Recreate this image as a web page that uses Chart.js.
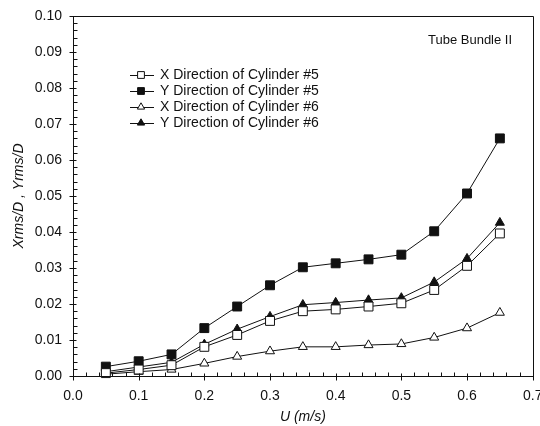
<!DOCTYPE html>
<html>
<head>
<meta charset="utf-8">
<script src="https://cdn.jsdelivr.net/npm/chart.js@4/dist/chart.umd.min.js"></script>
<style>
  html, body { margin: 0; padding: 0; background: #fff; }
  #wrap { width: 540px; height: 426px; position: relative; }
</style>
</head>
<body>
<div id="wrap"><canvas id="c" width="540" height="426"></canvas></div>
<script>
// ---- data ----
const flowSpeeds = [0.05, 0.10, 0.15, 0.20, 0.25, 0.30, 0.35, 0.40, 0.45, 0.50, 0.55, 0.60, 0.65];
const xDirCyl5 = [0.0008, 0.0018, 0.0030, 0.0081, 0.0114, 0.0153, 0.0180, 0.0185, 0.0193, 0.0202, 0.0239, 0.0306, 0.0396];
const yDirCyl5 = [0.0026, 0.0041, 0.0060, 0.0133, 0.0193, 0.0252, 0.0302, 0.0313, 0.0324, 0.0337, 0.0402, 0.0507, 0.0660];
const xDirCyl6 = [0.0005, 0.0012, 0.0018, 0.0035, 0.0054, 0.0069, 0.0081, 0.0081, 0.0086, 0.0089, 0.0107, 0.0133, 0.0176];
const yDirCyl6 = [0.0012, 0.0025, 0.0038, 0.0088, 0.0130, 0.0165, 0.0198, 0.0204, 0.0211, 0.0217, 0.0261, 0.0326, 0.0426];
const seriesLabels = ['X Direction of Cylinder #5', 'Y Direction of Cylinder #5', 'X Direction of Cylinder #6', 'Y Direction of Cylinder #6'];
const xTickLabels = ['0.0', '0.1', '0.2', '0.3', '0.4', '0.5', '0.6', '0.7'];
const yTickLabels = ['0.00', '0.01', '0.02', '0.03', '0.04', '0.05', '0.06', '0.07', '0.08', '0.09', '0.10'];
const annotationText = 'Tube Bundle II';
const xAxisTitle = 'U (m/s)';
const yAxisTitle = 'Xrms/D , Yrms/D';

const FONT = '"Liberation Sans", Arial, sans-serif';
const INK = '#111111';

const seriesValues = [xDirCyl5, yDirCyl5, xDirCyl6, yDirCyl6];
const seriesStyles = [
  { pointStyle: 'rect', fill: '#ffffff', radius: 6.3 },
  { pointStyle: 'rect', fill: INK, radius: 6.3 },
  { pointStyle: 'triangle', fill: '#ffffff', radius: 5.2 },
  { pointStyle: 'triangle', fill: INK, radius: 5.2 }
];

const datasets = seriesValues.map((vals, i) => ({
  label: seriesLabels[i],
  data: flowSpeeds.map((u, j) => ({ x: u, y: vals[j] })),
  borderColor: INK,
  borderWidth: 1,
  pointStyle: seriesStyles[i].pointStyle,
  pointRadius: seriesStyles[i].radius,
  pointHoverRadius: seriesStyles[i].radius,
  pointBackgroundColor: seriesStyles[i].fill,
  pointBorderColor: INK,
  pointBorderWidth: 1,
  tension: 0,
  fill: false,
  clip: false
}));

function drawMarker(ctx, style, fill, x, y, r) {
  ctx.save();
  ctx.beginPath();
  if (style === 'rect') {
    const s = Math.SQRT1_2 * r;
    ctx.rect(x - s, y - s, 2 * s, 2 * s);
  } else {
    const a = Math.PI * 2 / 3;
    let rad = 0;
    ctx.moveTo(x + Math.sin(rad) * r, y - Math.cos(rad) * r);
    rad += a; ctx.lineTo(x + Math.sin(rad) * r, y - Math.cos(rad) * r);
    rad += a; ctx.lineTo(x + Math.sin(rad) * r, y - Math.cos(rad) * r);
    ctx.closePath();
  }
  ctx.fillStyle = fill;
  ctx.fill();
  ctx.strokeStyle = INK;
  ctx.lineWidth = 1;
  ctx.stroke();
  ctx.restore();
}

const framePlugin = {
  id: 'frame',
  afterDraw(chart) {
    const ctx = chart.ctx;
    const a = chart.chartArea;
    const xs = chart.scales.x, ys = chart.scales.y;
    ctx.save();
    ctx.strokeStyle = INK;
    ctx.lineWidth = 1;
    // frame
    ctx.beginPath();
    ctx.rect(Math.round(a.left) + 0.5, Math.round(a.top) + 0.5, Math.round(a.right - a.left), Math.round(a.bottom - a.top));
    ctx.stroke();
    // x ticks
    ctx.beginPath();
    for (let k = 0; k <= 35; k++) {
      const v = k * 0.02;
      const px = Math.round(xs.getPixelForValue(v)) + 0.5;
      const by = Math.round(a.bottom) + 0.5;
      if (k % 5 === 0) { ctx.moveTo(px, by - 3); ctx.lineTo(px, by + 4); }
      else { ctx.moveTo(px, by - 4); ctx.lineTo(px, by); }
    }
    // y ticks
    for (let k = 0; k <= 50; k++) {
      const v = k * 0.002;
      const py = Math.round(ys.getPixelForValue(v)) + 0.5;
      const lx = Math.round(a.left) + 0.5;
      if (k % 5 === 0) { ctx.moveTo(lx - 4, py); ctx.lineTo(lx + 3, py); }
      else { ctx.moveTo(lx, py); ctx.lineTo(lx + 4, py); }
    }
    ctx.stroke();

    // annotation
    ctx.fillStyle = INK;
    ctx.font = '13px ' + FONT;
    ctx.textAlign = 'left';
    ctx.textBaseline = 'middle';
    ctx.fillText(annotationText, 428, 40);

    // legend
    ctx.font = '14px ' + FONT;
    const rows = [75, 91, 107, 123];
    chart.data.datasets.forEach((ds, i) => {
      const y = rows[i];
      ctx.beginPath();
      ctx.moveTo(130, y + 0.5);
      ctx.lineTo(154, y + 0.5);
      ctx.strokeStyle = INK;
      ctx.stroke();
      drawMarker(ctx, seriesStyles[i].pointStyle, seriesStyles[i].fill, 141, y, seriesStyles[i].pointStyle === 'rect' ? 4.8 : 4.2);
      ctx.fillStyle = INK;
      ctx.fillText(ds.label, 160, y + 0.5);
    });
    ctx.restore();
  }
};

new Chart(document.getElementById('c'), {
  type: 'line',
  data: { datasets },
  options: {
    responsive: false,
    animation: false,
    events: [],
    layout: { padding: { left: 0, right: 7, top: 16, bottom: 0 } },
    plugins: { legend: { display: false }, tooltip: { enabled: false } },
    scales: {
      x: {
        type: 'linear',
        min: 0, max: 0.7,
        grid: { display: false, drawTicks: false },
        border: { display: false },
        afterFit(s) { s.height = 50; s.paddingLeft = 0; s.paddingRight = 0; },
        afterBuildTicks(s) { s.ticks = xTickLabels.map(t => ({ value: parseFloat(t) })); },
        ticks: {
          padding: 12,
          color: INK,
          font: { family: FONT, size: 14 },
          maxRotation: 0,
          autoSkip: false,
          callback: (v, i) => xTickLabels[i]
        },
        title: {
          display: true, text: xAxisTitle, color: INK,
          font: { family: FONT, size: 14, style: 'italic' },
          padding: { top: 3, bottom: 0 }
        }
      },
      y: {
        type: 'linear',
        min: 0, max: 0.1,
        grid: { display: false, drawTicks: false },
        border: { display: false },
        afterFit(s) { s.width = 73; s.paddingTop = 0; s.paddingBottom = 0; },
        afterBuildTicks(s) { s.ticks = yTickLabels.map(t => ({ value: parseFloat(t) })); },
        ticks: {
          padding: 11,
          color: INK,
          font: { family: FONT, size: 14 },
          autoSkip: false,
          callback: (v, i) => yTickLabels[i]
        },
        title: {
          display: true, text: yAxisTitle, color: INK,
          font: { family: FONT, size: 14, style: 'italic' },
          padding: { top: 11, bottom: 0 }
        }
      }
    }
  },
  plugins: [framePlugin]
});
</script>
</body>
</html>
